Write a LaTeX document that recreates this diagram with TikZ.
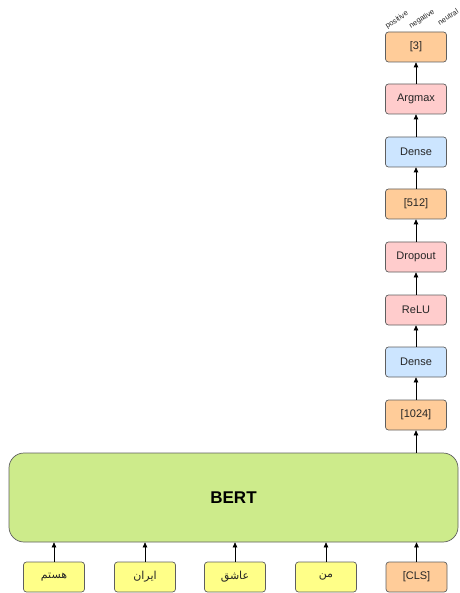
\documentclass[tikz,border=0pt]{standalone}
\usepackage{fontspec}
\setmainfont{Liberation Sans}
\newfontfamily\arabicfont[Script=Arabic]{DejaVu Sans}
\TeXXeTstate=1
\usetikzlibrary{arrows.meta}
\definecolor{cyel}{HTML}{FFFF88}
\definecolor{corg}{HTML}{FFCC99}
\definecolor{cpnk}{HTML}{FFCCCC}
\definecolor{cblu}{HTML}{CCE5FF}
\definecolor{cgrn}{HTML}{CDEB8B}
\definecolor{cstr}{HTML}{5F5F5F}
\begin{document}
\begin{tikzpicture}[x=1pt,y=-1pt,
  box/.style={draw=cstr,line width=0.7pt,rounded corners=3pt,minimum width=61pt,minimum height=30pt,inner sep=0pt,font=\fontsize{11}{13}\selectfont,text=black!85},
  tokbox/.style={box,fill=cyel},
  orgbox/.style={box,fill=corg},
  pnkbox/.style={box,fill=cpnk},
  blubox/.style={box,fill=cblu},
  conn/.style={draw=black,line width=0.7pt,-{Triangle[length=5pt,width=4.5pt]}},
  cls/.style={font=\fontsize{7.5}{8}\selectfont,rotate=33,text=black!85}
]
\useasboundingbox (0,0) rectangle (459,593);
\node[orgbox] (o3) at (416,47) {[3]};
\node[pnkbox] (argmax) at (416,99) {Argmax};
\node[blubox] (dense2) at (416,152) {Dense};
\node[orgbox] (o512) at (416,204) {[512]};
\node[pnkbox] (dropout) at (416,257) {Dropout};
\node[pnkbox] (relu) at (416,310) {ReLU};
\node[blubox] (dense1) at (416,362) {Dense};
\node[orgbox] (o1024) at (416,415) {[1024]};
\node[draw=cstr,line width=0.7pt,fill=cgrn,rounded corners=15pt,minimum width=449pt,minimum height=89pt,font=\bfseries\fontsize{17}{20}\selectfont] (bert) at (233.5,497.5) {BERT};
\node[tokbox] (t1) at (54,577) {\arabicfont\beginR هستم\endR};
\node[tokbox] (t2) at (145,577) {\arabicfont\beginR ایران\endR};
\node[tokbox] (t3) at (235,577) {\arabicfont\beginR عاشق\endR};
\node[tokbox] (t4) at (326,577) {\arabicfont\beginR من\endR};
\node[orgbox] (cls) at (416.5,577) {[CLS]};
\node[cls] (lpos) at (397,20) {positive};
\node[cls] (lneg) at (422,19) {negative};
\node[cls] (lneu) at (448,17) {neutral};
\foreach \a in {t1,t2,t3,t4,cls}{
  \draw[conn] (\a.north) -- (\a.north |- bert.south);
}
\draw[conn] (bert.north -| o1024.south) -- (o1024.south);
\draw[conn] (o1024) -- (dense1);
\draw[conn] (dense1) -- (relu);
\draw[conn] (relu) -- (dropout);
\draw[conn] (dropout) -- (o512);
\draw[conn] (o512) -- (dense2);
\draw[conn] (dense2) -- (argmax);
\draw[conn] (argmax) -- (o3);
\end{tikzpicture}
\end{document}
